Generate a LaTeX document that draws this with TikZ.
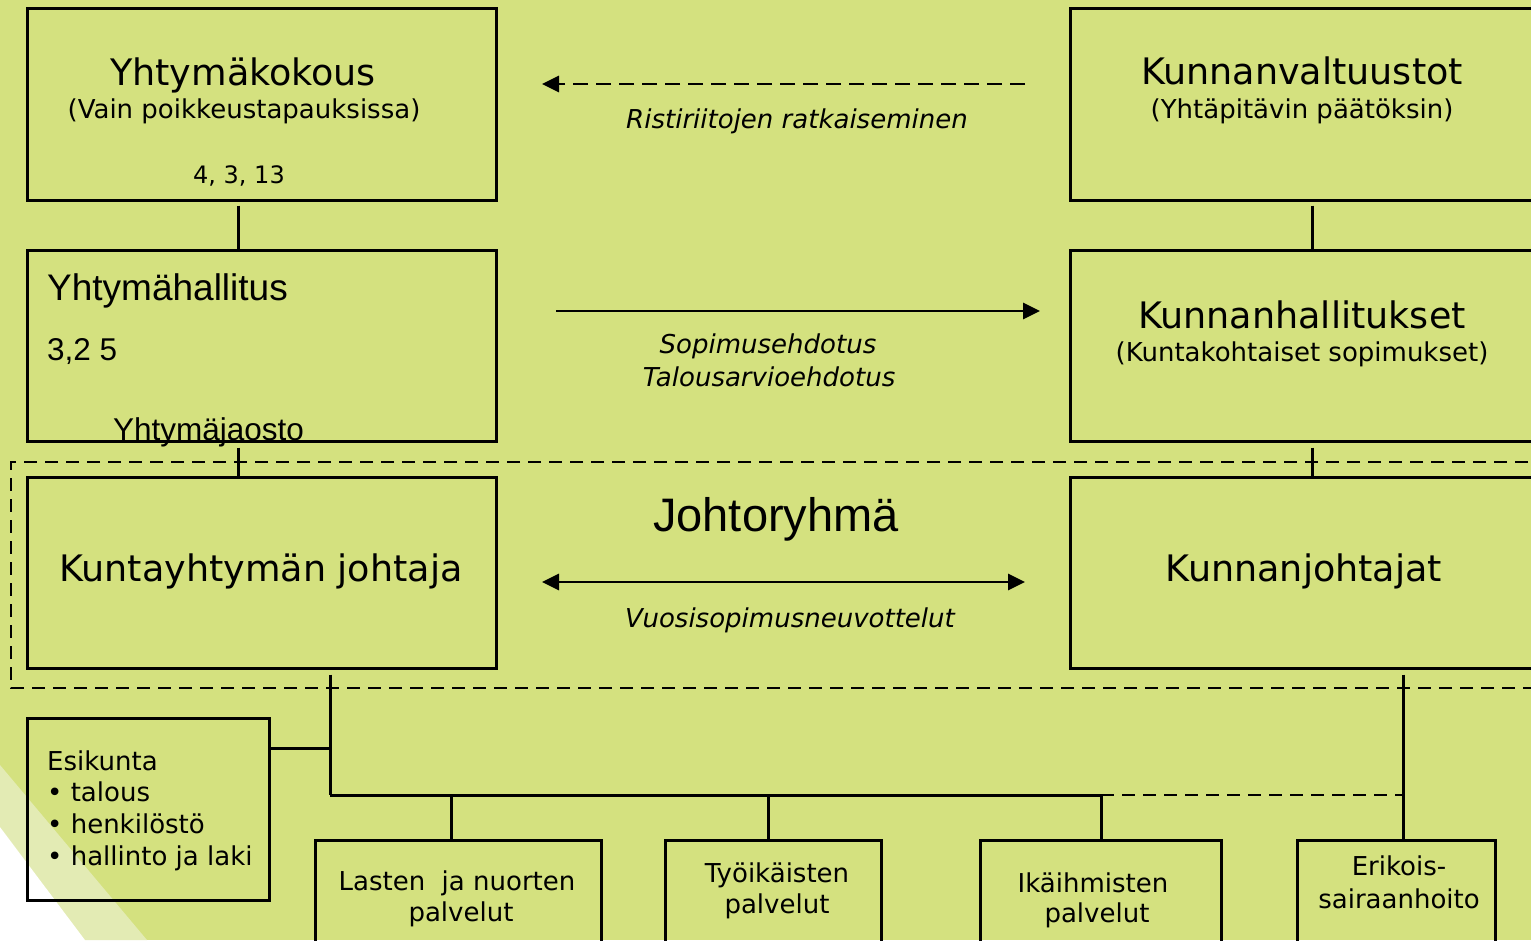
\documentclass[tikz,border=0pt]{standalone}
\usepackage{fontspec}
\setmainfont{DejaVu Sans}
\newfontfamily\arialfont{Liberation Sans}
\usetikzlibrary{arrows.meta}
\definecolor{bgc}{RGB}{212,225,127}
\definecolor{bandc}{RGB}{227,235,180}
\newcommand\fsBig{\fontsize{36.5}{44}\selectfont}
\newcommand\fsSmall{\fontsize{26}{32}\selectfont}
\newcommand\fsNum{\fontsize{24}{30}\selectfont}
\begin{document}
\begin{tikzpicture}[x=1pt,y=-1pt,line join=miter,
  box/.style={draw=black,line width=3pt,inner sep=0pt,rectangle},
  txt/.style={inner sep=0pt,anchor=base,text=black},
  txtl/.style={inner sep=0pt,anchor=base west,text=black},
  conn/.style={draw=black,line width=3pt},
  dconn/.style={draw=black,line width=2.8pt,dash pattern=on 13pt off 8pt},
  tip/.style={-{Triangle[length=17pt,width=16pt]}},
  tips/.style={{Triangle[length=17pt,width=16pt]}-{Triangle[length=17pt,width=16pt]}}]
\clip (0,0) rectangle (1531,940);
\fill[bgc] (0,0) rectangle (1531,940);
% corner decoration
\fill[bandc] (0,765) -- (147,940) -- (85,940) -- (0,827) -- cycle;
\fill[white] (0,827) -- (85,940) -- (0,940) -- cycle;
% dashed group
\draw[dconn] (1570,462) -- (11,462) -- (11,688) -- (1570,688);
% boxes
\node[box,minimum width=469pt,minimum height=192pt] (kokous) at (261.5,104) {};
\node[box,minimum width=469pt,minimum height=191pt] (hallitus) at (261.5,345.5) {};
\node[box,minimum width=469pt,minimum height=191pt] (johtaja) at (261.5,572.5) {};
\node[box,minimum width=500pt,minimum height=192pt] (valtuusto) at (1320,104) {};
\node[box,minimum width=500pt,minimum height=191pt] (khallitus) at (1320,345.5) {};
\node[box,minimum width=500pt,minimum height=191pt] (kjohtajat) at (1320,572.5) {};
\node[box,minimum width=242pt,minimum height=182pt] (esikunta) at (148,809) {};
\node[box,minimum width=286pt,minimum height=120pt] (lasten) at (458,900) {};
\node[box,minimum width=216pt,minimum height=120pt] (tyoik) at (773,900) {};
\node[box,minimum width=241pt,minimum height=120pt] (ikaih) at (1100.5,900) {};
\node[box,minimum width=198pt,minimum height=120pt] (erik) at (1396,900) {};
% connector guide coordinates
\coordinate (xL) at (238,0);
\coordinate (xR) at (1312.5,0);
\coordinate (xJ) at (330,0);
\coordinate (xE) at (1403,0);
\coordinate (xLa) at (451,0);
\coordinate (xTy) at (768,0);
\coordinate (xIk) at (1101,0);
\coordinate (bus) at (330,795);
\coordinate (busmid) at (1101,795);
\coordinate (busend) at (1403,795);
\coordinate (esk) at (330,748);
% vertical connectors
\draw[conn,shorten <=4pt] (kokous.south -| xL) -- (hallitus.north -| xL);
\draw[conn,shorten <=5pt] (hallitus.south -| xL) -- (johtaja.north -| xL);
\draw[conn,shorten <=4pt] (valtuusto.south -| xR) -- (khallitus.north -| xR);
\draw[conn,shorten <=5pt] (khallitus.south -| xR) -- (kjohtajat.north -| xR);
\draw[conn,shorten <=5pt] (johtaja.south -| xJ) -- (bus);
\draw[conn] (bus) -- (busmid);
\draw[dconn] (busmid) -- (busend);
\draw[conn] (esikunta.east |- esk) -- (esk);
\draw[conn] (bus -| xLa) -- (lasten.north -| xLa);
\draw[conn] (bus -| xTy) -- (tyoik.north -| xTy);
\draw[conn] (busmid) -- (ikaih.north -| xIk);
\draw[conn,shorten <=5pt] (kjohtajat.south -| xE) -- (erik.north -| xE);
% arrows between columns
\coordinate (a1s) at (1025,84);
\coordinate (a1e) at (542,84);
\coordinate (a2s) at (556,311);
\coordinate (a2e) at (1040,311);
\coordinate (a3s) at (542,582);
\coordinate (a3e) at (1025,582);
\draw[dconn,dash pattern=on 15pt off 8pt,tip] (a1s) -- (a1e);
\draw[conn,line width=2.8pt,tip] (a2s) -- (a2e);
\draw[conn,line width=2.8pt,tips] (a3s) -- (a3e);
% texts
\node[txt] (t1) at (243,85) {\fsBig Yhtymäkokous};
\node[txt] (t2) at (244,118) {\fsSmall (Vain poikkeustapauksissa)};
\node[txt] (t3) at (239,183) {\fsNum 4, 3, 13};
\node[txt] (t4) at (1302,84) {\fsBig Kunnanvaltuustot};
\node[txt] (t5) at (1302,118) {\fsSmall (Yhtäpitävin päätöksin)};
\node[txt] (t6) at (1302,328) {\fsBig Kunnanhallitukset};
\node[txt] (t7) at (1302,361) {\fsSmall (Kuntakohtaiset sopimukset)};
\node[txtl] (t8) at (47,300) {\arialfont\fontsize{37}{44}\selectfont Yhtymähallitus};
\node[txtl] (t9) at (47,360) {\arialfont\fontsize{31.5}{38}\selectfont 3,2 5};
\node[txt] (t10) at (208.5,440) {\arialfont\fontsize{31.5}{38}\selectfont Yhtymäjaosto};
\node[txt] (t11) at (261,581) {\fsBig Kuntayhtymän johtaja};
\node[txt] (t12) at (1304,581) {\fsBig Kunnanjohtajat};
\node[txt] (t13) at (776,531) {\arialfont\fontsize{47}{56}\selectfont Johtoryhmä};
\node[txt] (t14) at (797,128) {\fsSmall\itshape Ristiriitojen ratkaiseminen};
\node[txt] (t15) at (768,353) {\fsSmall\itshape Sopimusehdotus};
\node[txt] (t16) at (769,386) {\fsSmall\itshape Talousarvioehdotus};
\node[txt] (t17) at (790,627) {\fsSmall\itshape Vuosisopimusneuvottelut};
\node[txtl] (t18) at (47,770) {\fsSmall Esikunta};
\node[txtl] (t19) at (47,801) {\fsSmall • talous};
\node[txtl] (t20) at (47,833) {\fsSmall • henkilöstö};
\node[txtl] (t21) at (47,865) {\fsSmall • hallinto ja laki};
\node[txt] (t22) at (457,890) {\fsSmall Lasten\ \ ja nuorten};
\node[txt] (t23) at (461,921) {\fsSmall palvelut};
\node[txt] (t24) at (777,882) {\fsSmall Työikäisten};
\node[txt] (t25) at (777,913) {\fsSmall palvelut};
\node[txt] (t26) at (1093,892) {\fsSmall Ikäihmisten};
\node[txt] (t27) at (1097,922) {\fsSmall palvelut};
\node[txt] (t28) at (1399,875) {\fsSmall Erikois-};
\node[txt] (t29) at (1399,908) {\fsSmall sairaanhoito};
\end{tikzpicture}
\end{document}
